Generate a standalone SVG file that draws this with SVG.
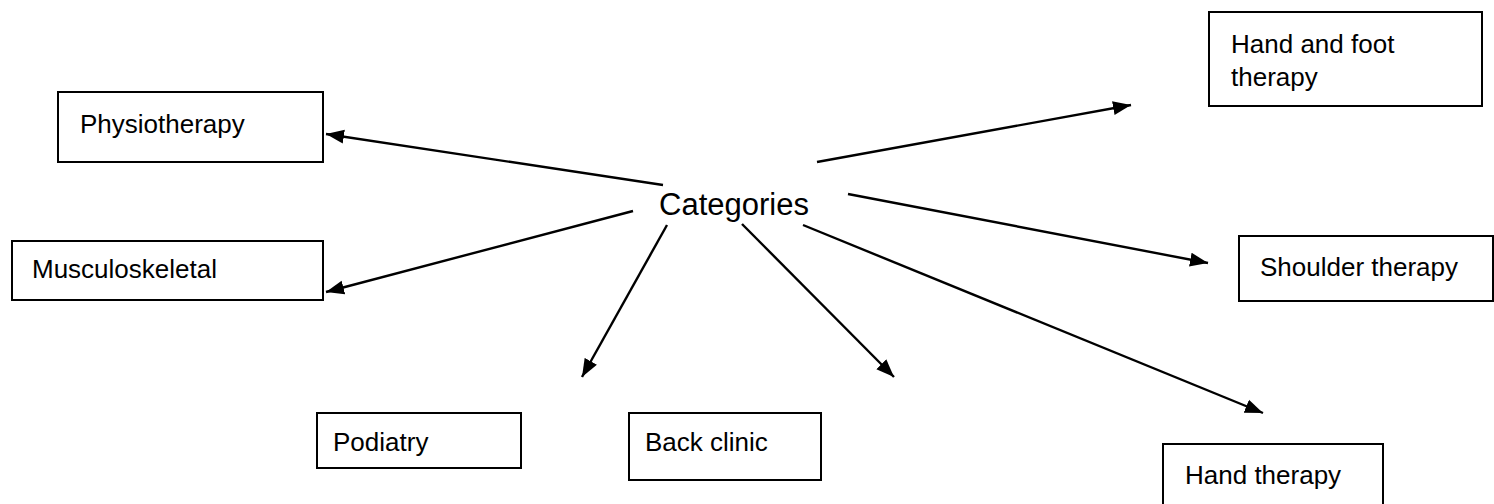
<svg xmlns="http://www.w3.org/2000/svg" width="1494" height="504" viewBox="0 0 1494 504">
<style>
.box{fill:#fff;stroke:#000;stroke-width:2}
.lbl{font-family:"Liberation Sans",Arial,sans-serif;font-size:26px;fill:#000}
.cat{font-family:"Liberation Sans",Arial,sans-serif;font-size:31px;fill:#000}
.edge{stroke:#000;stroke-width:2.4;fill:none;marker-end:url(#ah)}
</style>
<defs>
<marker id="ah" markerUnits="userSpaceOnUse" markerWidth="20" markerHeight="16" refX="18" refY="8" orient="auto">
<path d="M0,1 L18,8 L0,15 z" fill="#000"/>
</marker>
</defs>
<rect width="1494" height="504" fill="#fff"/>
<g id="connectors">
<line class="edge" x1="663" y1="185" x2="326" y2="134"/>
<line class="edge" x1="633" y1="211" x2="326" y2="292"/>
<line class="edge" x1="667" y1="225" x2="582" y2="377"/>
<line class="edge" x1="742" y1="224" x2="894" y2="377"/>
<line class="edge" x1="803" y1="225" x2="1263" y2="413"/>
<line class="edge" x1="848" y1="194" x2="1208" y2="263"/>
<line class="edge" x1="817" y1="162" x2="1131" y2="105"/>
</g>
<g id="categories">
<text class="cat" x="659" y="215">Categories</text>
</g>
<g id="physiotherapy">
<rect class="box" x="58" y="92" width="265" height="70"/>
<text class="lbl" x="80" y="133">Physiotherapy</text>
</g>
<g id="musculoskeletal">
<rect class="box" x="12" y="241" width="311" height="59"/>
<text class="lbl" x="32" y="278">Musculoskeletal</text>
</g>
<g id="podiatry">
<rect class="box" x="317" y="413" width="204" height="55"/>
<text class="lbl" x="333" y="451">Podiatry</text>
</g>
<g id="back-clinic">
<rect class="box" x="629" y="413" width="192" height="67"/>
<text class="lbl" x="645" y="451">Back clinic</text>
</g>
<g id="hand-therapy">
<rect class="box" x="1163" y="444" width="220" height="80"/>
<text class="lbl" x="1185" y="484">Hand therapy</text>
</g>
<g id="shoulder-therapy">
<rect class="box" x="1239" y="236" width="254" height="65"/>
<text class="lbl" x="1260" y="276">Shoulder therapy</text>
</g>
<g id="hand-and-foot-therapy">
<rect class="box" x="1209" y="12" width="273" height="94"/>
<text class="lbl" x="1231" y="53">Hand and foot</text>
<text class="lbl" x="1231" y="86">therapy</text>
</g>
</svg>
